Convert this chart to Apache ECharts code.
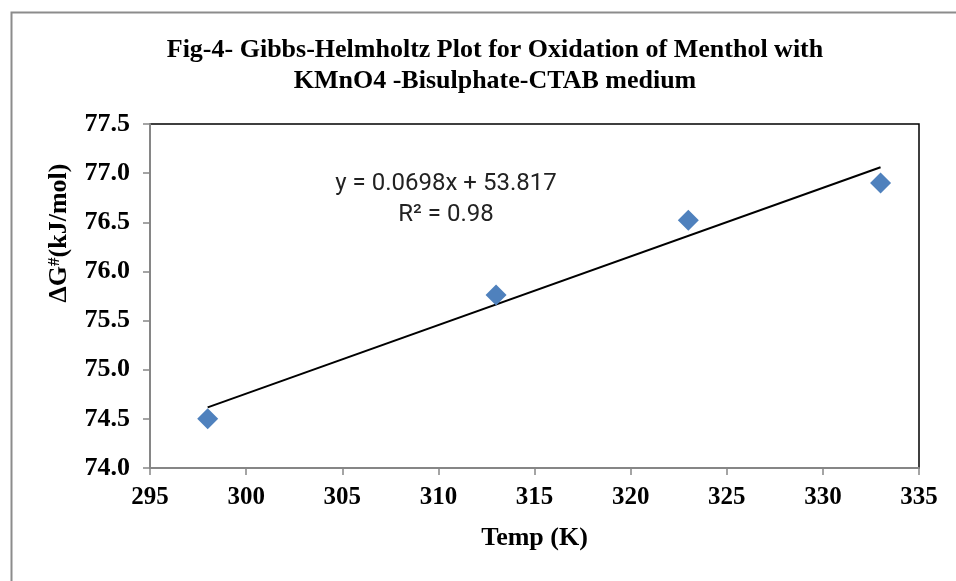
<!DOCTYPE html>
<html>
<head>
<meta charset="utf-8">
<script src="https://cdn.jsdelivr.net/npm/echarts@6/dist/echarts.min.js"></script>
<style>html,body{margin:0;padding:0;background:#fff}#c{width:956px;height:581px}</style>
</head>
<body>
<div id="c"></div>
<script>
var temps = [298, 313, 323, 333];
var deltaG = [74.5, 75.76, 76.52, 76.9];
var slope = 0.0698;
var intercept = 53.817;
var r2Text = 'R² = 0.98';
var eqText = 'y = 0.0698x + 53.817';
var xTicks = [295, 300, 305, 310, 315, 320, 325, 330, 335];
var yTicks = [74.0, 74.5, 75.0, 75.5, 76.0, 76.5, 77.0, 77.5];

var trendX = [temps[0], temps[temps.length - 1]];
var trend = trendX.map(function (x) { return [x, slope * x + intercept]; });
var points = temps.map(function (t, i) { return [t, deltaG[i]]; });

var serif = '"Liberation Serif", "Times New Roman", serif';
var chart = echarts.init(document.getElementById('c'));
chart.setOption({
  animation: false,
  backgroundColor: '#fff',
  title: {
    text: 'Fig-4- Gibbs-Helmholtz Plot for Oxidation of Menthol with\nKMnO4 -Bisulphate-CTAB medium',
    left: 490, top: 30, textAlign: 'center',
    textStyle: { fontFamily: serif, fontWeight: 'bold', fontSize: 26, color: '#000', lineHeight: 31 }
  },
  grid: { left: 150, right: 37, top: 124, bottom: 113, show: true, borderColor: '#000', borderWidth: 1.5, backgroundColor: 'transparent' },
  xAxis: {
    type: 'value', min: 295, max: 335, interval: 5,
    name: 'Temp (K)', nameLocation: 'middle', nameGap: 57,
    nameTextStyle: { fontFamily: serif, fontWeight: 'bold', fontSize: 26, color: '#000' },
    axisLine: { show: true, onZero: false, lineStyle: { color: '#868686', width: 2 } },
    axisTick: { show: true, length: 7, lineStyle: { color: '#868686', width: 1.5 } },
    axisLabel: { margin: 17, fontFamily: serif, fontWeight: 'bold', fontSize: 25, color: '#000',
      formatter: function (v) { return xTicks.indexOf(v) >= 0 ? String(v) : ''; } },
    splitLine: { show: false }
  },
  yAxis: {
    type: 'value', min: 74.0, max: 77.5, interval: 0.5,
    axisLine: { show: true, onZero: false, lineStyle: { color: '#868686', width: 2 } },
    axisTick: { show: true, length: 7, lineStyle: { color: '#868686', width: 1.5 } },
    axisLabel: { margin: 20, fontFamily: serif, fontWeight: 'bold', fontSize: 26, color: '#000',
      formatter: function (v) { return yTicks.indexOf(+v.toFixed(1)) >= 0 ? v.toFixed(1) : ''; } },
    splitLine: { show: false }
  },
  series: [
    {
      type: 'line', data: trend, symbol: 'none', silent: true,
      lineStyle: { color: '#000', width: 2 }, z: 2
    },
    {
      type: 'scatter', data: points, symbol: 'diamond', symbolSize: 21,
      itemStyle: { color: '#4F81BD', opacity: 1 }, z: 3
    }
  ],
  graphic: [
    { type: 'rect', left: 9, top: 10, shape: { width: 960, height: 600 },
      style: { fill: 'none', stroke: '#8c8c8c', lineWidth: 2 }, silent: true, z: -1 },
    { type: 'text', x: 446, y: 168,
      style: { text: eqText + '\n' + r2Text, align: 'center', textAlign: 'center', fontFamily: 'Roboto, "Open Sans", sans-serif', fontSize: 24, lineHeight: 31, fill: '#222' } },
    { type: 'text', x: 59, y: 233, rotation: Math.PI / 2,
      style: {
        text: '{a|ΔG}{s|#}{a|(kJ/mol)}', align: 'center', textAlign: 'center', verticalAlign: 'middle', textVerticalAlign: 'middle',
        rich: {
          a: { fontFamily: serif, fontWeight: 'bold', fontSize: 26, fill: '#000', color: '#000' },
          s: { fontFamily: serif, fontWeight: 'bold', fontSize: 17, fill: '#000', color: '#000', verticalAlign: 'top', padding: [0, 0, 9, 0] }
        }
      } }
  ]
});
</script>
</body>
</html>
